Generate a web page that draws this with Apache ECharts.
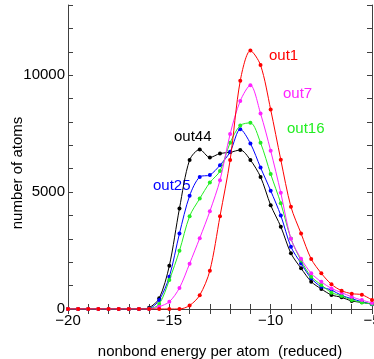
<!DOCTYPE html>
<html>
<head>
<meta charset="utf-8">
<script src="https://cdn.jsdelivr.net/npm/echarts@6/dist/echarts.min.js"></script>
<style>
  html, body { margin: 0; padding: 0; background: #fff; }
  #chart { width: 374px; height: 359px; }
</style>
</head>
<body>
<div id="chart"></div>
<script>
// energy bins, -20 .. -5 step 0.5
const energy = [-20, -19.5, -19, -18.5, -18, -17.5, -17, -16.5, -16, -15.5, -15, -14.5, -14, -13.5, -13, -12.5,
  -12, -11.5, -11, -10.5, -10, -9.5, -9, -8.5, -8, -7.5, -7, -6.5, -6, -5.5, -5]

const out44 = [0, 0, 0, 0, 0, 0, 0, 0, 57, 455, 1850, 4300, 6370, 6820, 6480, 6650,
  6700, 6800, 6370, 5650, 4440, 3520, 2380, 1740, 1170, 855, 600, 500, 340, 285, 210]
const out25 = [0, 0, 0, 0, 0, 0, 0, 0, 20, 385, 1380, 3230, 4840, 5650, 5730, 6150,
  6720, 7690, 7080, 6050, 5060, 4000, 2660, 1950, 1310, 950, 810, 580, 440, 310, 200]
const out16 = [0, 0, 0, 0, 0, 0, 0, 0, 10, 210, 1240, 2490, 3970, 4720, 5410, 5900,
  7110, 7850, 7960, 7110, 5770, 4520, 3010, 2070, 1380, 1030, 700, 560, 385, 280, 210]
const out7 = [0, 0, 0, 0, 0, 0, 0, 0, 0, 100, 310, 900, 1940, 3030, 4180, 5510,
  7480, 8900, 9570, 8360, 6770, 4970, 3000, 2150, 1530, 1160, 880, 700, 520, 380, 260]
const out1 = [0, 0, 0, 0, 0, 0, 0, 0, 0, 0, 0, 0, 150, 590, 1640, 3970,
  6370, 9760, 11050, 10430, 8530, 6380, 4370, 3230, 2140, 1525, 1055, 782, 654, 611, 385]

const seriesNames = ['out44', 'out25', 'out16', 'out7', 'out1']
const seriesData = [out44, out25, out16, out7, out1]
const colors = ['#000000', '#0000ff', '#22ee22', '#ff22ff', '#ff0000']

const xTickLabels = [-20, -15, -10, -5]
const yTickLabels = [0, 5000, 10000]

const axisColor = '#404040'
const font = 'Liberation Sans, Arial, sans-serif'

const minus = v => String(v).replace('-', '\u2212')

const baseAxis = {
  axisLine: { show: true, lineStyle: { color: axisColor, width: 1 } },
  axisTick: { show: true, inside: true, length: 5, lineStyle: { color: axisColor } },
  splitLine: { show: false },
}

const option = {
  animation: false,
  grid: { left: 68, right: 2, top: 5, bottom: 50, outerBoundsMode: 'none' },
  xAxis: [
    {
      ...baseAxis,
      type: 'value', min: -20, max: -5, interval: 1, position: 'bottom',
      axisLabel: {
        margin: 4, color: '#000', fontSize: 15, fontFamily: font,
        formatter: v => xTickLabels.includes(v) ? minus(v) : '',
        showMaxLabel: true,
      },
      name: 'nonbond energy per atom  (reduced)',
      nameLocation: 'middle', nameGap: 35,
      nameTextStyle: { color: '#000', fontSize: 15, fontFamily: font },
    },
    {
      ...baseAxis,
      type: 'value', min: -20, max: -5, interval: 1, position: 'top',
      axisLabel: { show: false },
    },
  ],
  yAxis: [
    {
      ...baseAxis,
      type: 'value', min: 0, max: 13000, interval: 1000, position: 'left',
      axisLabel: {
        margin: 3, color: '#000', fontSize: 15, fontFamily: font,
        formatter: v => yTickLabels.includes(v) ? String(v) : '',
      },
    },
    {
      ...baseAxis,
      type: 'value', min: 0, max: 13000, interval: 1000, position: 'right',
      axisLabel: { show: false },
    },
  ],
  series: seriesNames.map((name, i) => ({
    name,
    type: 'line',
    data: energy.map((x, j) => [x, seriesData[i][j]]),
    smooth: 0.3,
    symbol: 'circle',
    symbolSize: 4,
    itemStyle: { color: colors[i] },
    lineStyle: { color: colors[i], width: 1 },
    z: 2 + i,
  })),
  graphic: [
    { type: 'text', left: 269, top: 48, style: { text: 'out1', fill: colors[4], font: '15px ' + font } },
    { type: 'text', left: 283, top: 86, style: { text: 'out7', fill: colors[3], font: '15px ' + font } },
    { type: 'text', left: 287, top: 121, style: { text: 'out16', fill: colors[2], font: '15px ' + font } },
    { type: 'text', left: 174, top: 129, style: { text: 'out44', fill: colors[0], font: '15px ' + font } },
    { type: 'text', left: 153, top: 178, style: { text: 'out25', fill: colors[1], font: '15px ' + font } },
    {
      type: 'text', x: 18, y: 173, rotation: Math.PI / 2,
      style: { text: 'number of atoms', fill: '#000', font: '15px ' + font, align: 'center', verticalAlign: 'middle' },
    },
  ],
}

const chart = echarts.init(document.getElementById('chart'))
chart.setOption(option)
</script>
</body>
</html>
